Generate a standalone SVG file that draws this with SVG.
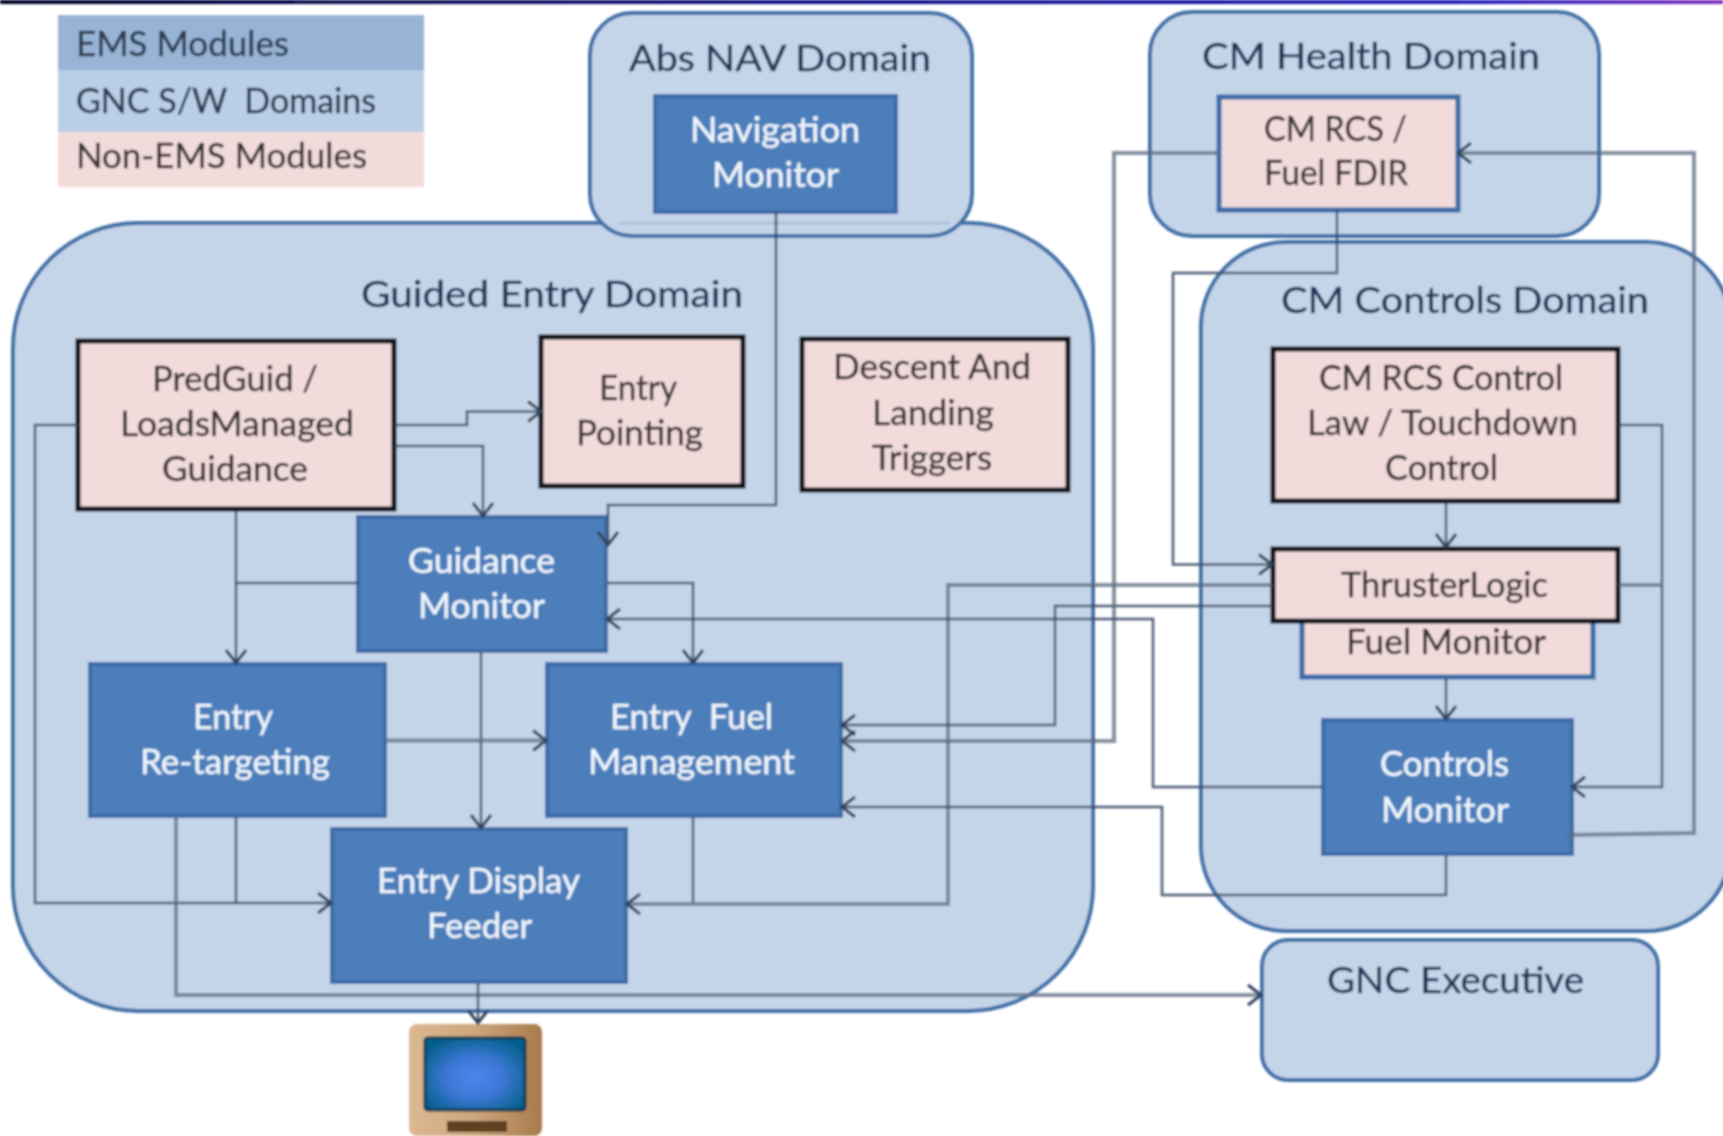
<svg xmlns="http://www.w3.org/2000/svg" width="1723" height="1136" viewBox="0 0 1723 1136">
<style>
text{font-family:Lato,"Liberation Sans",sans-serif;font-size:34px;stroke-width:.4px}
.h{font-size:36px}
.d{fill:#c5d5e9;stroke:#3f6fa6;stroke-width:4}
.m{fill:#4c7eba;stroke:#3c6ca8;stroke-width:4}
.p{fill:#f2dcdb;stroke:#0a0a16;stroke-width:5}
.q{fill:#f2dcdb;stroke:#3a6ca8;stroke-width:5}
.td{fill:#1c3558;stroke:#1c3558}
.tm{fill:#f0f6fd;stroke:#f0f6fd}
.tp{fill:#3a3034;stroke:#3a3034}
.tl{fill:#2b3a50;stroke:#2b3a50}
.c{fill:none;stroke:#3c4c66;stroke-width:2.5;stroke-opacity:.9}
.k{fill:none;stroke:#5d6c83;stroke-width:4;stroke-opacity:.75}
.a{marker-end:url(#arr)}
</style>
<defs>
<marker id="arr" markerUnits="userSpaceOnUse" markerWidth="22" markerHeight="26" refX="17" refY="13" orient="auto">
<path d="M4 3L17 13L4 23" fill="none" stroke="#33435c" stroke-width="3"/>
</marker>
<linearGradient id="bar" x1="0" x2="1" y1="0" y2="0"><stop offset="0" stop-color="#02022a"/><stop offset=".5" stop-color="#10108a"/><stop offset=".85" stop-color="#2020b8"/><stop offset="1" stop-color="#8030c0"/></linearGradient>
<linearGradient id="tan" x1="0" x2="1" y1="0" y2="0"><stop offset="0" stop-color="#dcb994"/><stop offset=".5" stop-color="#cda67c"/><stop offset="1" stop-color="#a87a4c"/></linearGradient>
<radialGradient id="scr" cx=".5" cy=".55" r=".6"><stop offset="0" stop-color="#4f84ee"/><stop offset=".45" stop-color="#3f78d8"/><stop offset="1" stop-color="#06618f"/></radialGradient>
<filter id="soft" x="0" y="0" width="1" height="1"><feGaussianBlur stdDeviation="0.9"/></filter>
</defs>
<rect width="1723" height="1136" fill="#fff"/>
<g filter="url(#soft)">
<rect width="1723" height="4" fill="url(#bar)"/>
<g id="legend">
<rect x="58" y="15" width="366" height="55" fill="#97b4d7"/>
<rect x="58" y="70" width="366" height="62" fill="#b9cee7"/>
<rect x="58" y="132" width="366" height="55" fill="#f2dcdb"/>
<text class="tl" x="76" y="56" textLength="213" lengthAdjust="spacingAndGlyphs">EMS Modules</text>
<text class="tl" x="76" y="113" textLength="300" lengthAdjust="spacingAndGlyphs" xml:space="preserve">GNC S/W  Domains</text>
<text class="tp" x="76" y="168" textLength="291" lengthAdjust="spacingAndGlyphs">Non-EMS Modules</text>
</g>
<g id="guided-entry-domain">
<rect class="d" x="13" y="223" width="1080" height="788" rx="125"/>
<text class="td h" x="361" y="307" textLength="382" lengthAdjust="spacingAndGlyphs">Guided Entry Domain</text>
</g>
<g id="abs-nav-domain">
<rect class="d" x="590" y="13" width="382" height="223" rx="42"/>
<path d="M620 223H950" stroke="#3f6fa6" stroke-width="3" stroke-opacity=".2"/>
<text class="td h" x="629" y="71" textLength="302" lengthAdjust="spacingAndGlyphs">Abs NAV Domain</text>
</g>
<g id="cm-health-domain">
<rect class="d" x="1150" y="12" width="449" height="224" rx="42"/>
<text class="td h" x="1202" y="69" textLength="338" lengthAdjust="spacingAndGlyphs">CM Health Domain</text>
</g>
<g id="cm-controls-domain">
<rect class="d" x="1201" y="242" width="530" height="689" rx="85"/>
<text class="td h" x="1281" y="313" textLength="368" lengthAdjust="spacingAndGlyphs">CM Controls Domain</text>
</g>
<g id="gnc-executive">
<rect class="d" x="1262" y="940" width="396" height="140" rx="26"/>
<text class="td h" x="1327" y="993" textLength="257" lengthAdjust="spacingAndGlyphs">GNC Executive</text>
</g>
<g id="navigation-monitor">
<rect class="m" x="655" y="96" width="241" height="116"/>
<text class="tm" x="690" y="142" textLength="170" lengthAdjust="spacingAndGlyphs">Navigation</text>
<text class="tm" x="712" y="187" textLength="127" lengthAdjust="spacingAndGlyphs">Monitor</text>
</g>
<g id="predguid">
<rect class="p" x="78" y="341" width="316" height="168"/>
<text class="tp" x="152" y="391" textLength="166" lengthAdjust="spacingAndGlyphs">PredGuid /</text>
<text class="tp" x="120" y="436" textLength="234" lengthAdjust="spacingAndGlyphs">LoadsManaged</text>
<text class="tp" x="162" y="481" textLength="146" lengthAdjust="spacingAndGlyphs">Guidance</text>
</g>
<g id="entry-pointing">
<rect class="p" x="541" y="337" width="202" height="149"/>
<text class="tp" x="599" y="400" textLength="78" lengthAdjust="spacingAndGlyphs">Entry</text>
<text class="tp" x="576" y="445" textLength="127" lengthAdjust="spacingAndGlyphs">Pointing</text>
</g>
<g id="descent-landing-triggers">
<rect class="p" x="802" y="339" width="266" height="151"/>
<text class="tp" x="833" y="379" textLength="198" lengthAdjust="spacingAndGlyphs">Descent And</text>
<text class="tp" x="872" y="425" textLength="122" lengthAdjust="spacingAndGlyphs">Landing</text>
<text class="tp" x="872" y="470" textLength="120" lengthAdjust="spacingAndGlyphs">Triggers</text>
</g>
<g id="guidance-monitor">
<rect class="m" x="358" y="517" width="248" height="134"/>
<text class="tm" x="408" y="573" textLength="147" lengthAdjust="spacingAndGlyphs">Guidance</text>
<text class="tm" x="418" y="618" textLength="127" lengthAdjust="spacingAndGlyphs">Monitor</text>
</g>
<g id="entry-retargeting">
<rect class="m" x="90" y="664" width="295" height="152"/>
<text class="tm" x="193" y="729" textLength="80" lengthAdjust="spacingAndGlyphs">Entry</text>
<text class="tm" x="140" y="774" textLength="190" lengthAdjust="spacingAndGlyphs">Re-targeting</text>
</g>
<g id="entry-fuel-management">
<rect class="m" x="547" y="664" width="294" height="152"/>
<text class="tm" x="610" y="729" textLength="163" lengthAdjust="spacingAndGlyphs" xml:space="preserve">Entry  Fuel</text>
<text class="tm" x="588" y="774" textLength="207" lengthAdjust="spacingAndGlyphs">Management</text>
</g>
<g id="entry-display-feeder">
<rect class="m" x="332" y="829" width="294" height="153"/>
<text class="tm" x="377" y="893" textLength="203" lengthAdjust="spacingAndGlyphs">Entry Display</text>
<text class="tm" x="427" y="938" textLength="105" lengthAdjust="spacingAndGlyphs">Feeder</text>
</g>
<g id="display-monitor">
<rect x="409" y="1024" width="133" height="112" rx="8" fill="url(#tan)"/>
<rect x="425" y="1038" width="100" height="72" rx="3" fill="url(#scr)" stroke="#123c52" stroke-width="3"/>
<rect x="447" y="1121" width="60" height="11" fill="#5e4220"/>
</g>
<g id="cm-rcs-fuel-fdir">
<rect class="q" x="1219" y="97" width="239" height="113"/>
<text class="tp" x="1264" y="141" textLength="143" lengthAdjust="spacingAndGlyphs">CM RCS /</text>
<text class="tp" x="1264" y="185" textLength="144" lengthAdjust="spacingAndGlyphs">Fuel FDIR</text>
</g>
<g id="cm-rcs-control">
<rect class="p" x="1273" y="349" width="345" height="152"/>
<text class="tp" x="1319" y="390" textLength="244" lengthAdjust="spacingAndGlyphs">CM RCS Control</text>
<text class="tp" x="1307" y="435" textLength="271" lengthAdjust="spacingAndGlyphs">Law / Touchdown</text>
<text class="tp" x="1385" y="480" textLength="113" lengthAdjust="spacingAndGlyphs">Control</text>
</g>
<g id="fuel-monitor">
<rect class="q" x="1302" y="615" width="291" height="62"/>
<text class="tp" x="1346" y="654" textLength="200" lengthAdjust="spacingAndGlyphs">Fuel Monitor</text>
</g>
<g id="thruster-logic">
<rect class="p" x="1273" y="549" width="345" height="72"/>
<text class="tp" x="1341" y="597" textLength="207" lengthAdjust="spacingAndGlyphs">ThrusterLogic</text>
</g>
<g id="controls-monitor">
<rect class="m" x="1323" y="720" width="249" height="134"/>
<text class="tm" x="1380" y="776" textLength="129" lengthAdjust="spacingAndGlyphs">Controls</text>
<text class="tm" x="1381" y="822" textLength="128" lengthAdjust="spacingAndGlyphs">Monitor</text>
</g>
<g id="connectors">
<path class="c a" d="M776 212V505H608V545"/>
<path class="c a" d="M395 425H467V411.500H541"/>
<path class="c a" d="M395 446H483V516"/>
<path class="c a" d="M78 425H35V903H331"/>
<path class="c a" d="M236 511V663"/>
<path class="c" d="M358 583H236"/>
<path class="c a" d="M607 583H693V663"/>
<path class="c a" d="M481 652V828"/>
<path class="k a" d="M386 740.500H546"/>
<path class="c" d="M236 817V903"/>
<path class="k a" d="M176 817V995H1261"/>
<path class="c" d="M693 817V903"/>
<path class="k a" d="M1272 585H948V904H627"/>
<path class="c a" d="M478 983V1023"/>
<path class="c a" d="M1272 606H1055V725H842"/>
<path class="k a" d="M1219 153H1114V741H842"/>
<path class="c a" d="M1446 855V895H1162V807H842"/>
<path class="c a" d="M1322 787H1153V619H607"/>
<path class="c a" d="M1337 210V273H1173V564.500H1272"/>
<path class="c a" d="M1446 503V547"/>
<path class="c a" d="M1446 678V719"/>
<path class="c a" d="M1619 425H1662V787H1572"/>
<path class="k" d="M1619 585H1662"/>
<path class="k a" d="M1567 835L1694 833V153H1458"/>
</g>
</g>
</svg>
